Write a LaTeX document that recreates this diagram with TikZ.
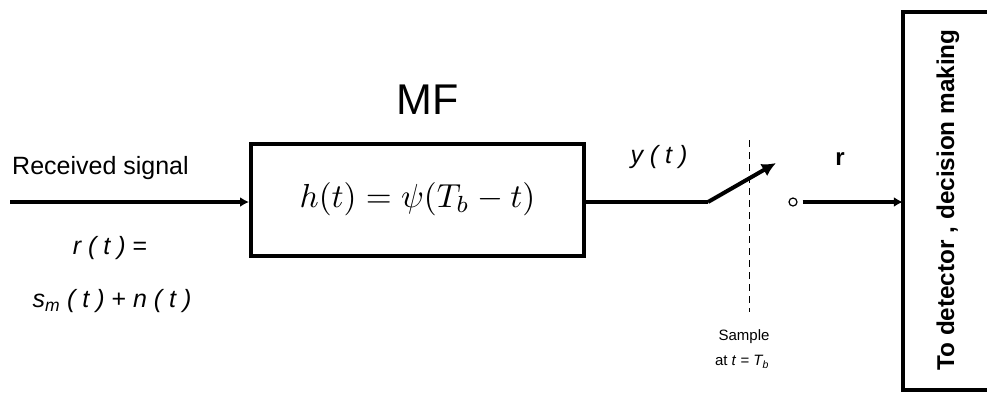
\documentclass[tikz,border=0pt]{standalone}
\usepackage{fontspec}
\setmainfont{Liberation Sans}
\usetikzlibrary{arrows.meta}
\begin{document}
\begin{tikzpicture}[x=1pt,y=-1pt,
  blk/.style={draw,line width=4pt,rectangle,inner sep=0pt},
  wire/.style={line width=4.5pt},
  tip/.style={-{Latex[length=9pt,width=10pt]}},
  lbl/.style={inner sep=0pt,font=\fontsize{25}{28}\selectfont},
  ilbl/.style={lbl,font=\fontsize{25}{28}\selectfont\itshape}]
\useasboundingbox (0,0) rectangle (987,392);
\fill[white] (0,0) rectangle (987,392);
% blocks
\node[blk,minimum width=333pt,minimum height=112pt] (mf) at (417.5,199.5) {\scalebox{3.33}{$h(t)=\psi(T_b-t)$}};
\node[font=\fontsize{43}{46}\selectfont,inner sep=0pt] (mft) at (428,100) {MF};
\node[minimum width=120pt,minimum height=378pt,inner sep=0pt] (det) at (963,201) {};
\draw[line width=4pt] ([xshift=-28pt]det.north east) -- (det.north west) -- (det.south west) -- ([xshift=-28pt]det.south east);
\node[rotate=90,font=\fontsize{24.3}{26}\selectfont\bfseries,inner sep=0pt] (dett) at (948,200) {To detector , decision making};
% coordinates
\coordinate (src) at (10,202);
\coordinate (sw0) at (708,202);
\coordinate (sw1) at (776,163);
\node[draw,circle,line width=1.2pt,minimum size=8pt,inner sep=0pt] (term) at (793,202) {};
% connectors
\draw[wire,tip] (src) -- (mf.west |- src);
\draw[wire] (mf.east |- sw0) -- (sw0);
\draw[line width=4pt,-{Latex[length=14pt,width=14pt]}] (sw0) -- (sw1);
\draw[wire,tip] (term.east) ++(5,0) coordinate (t2) (t2) -- (det.west |- t2);
% dashed sample line
\coordinate (d0) at (749,140);
\coordinate (d1) at (749,312);
\draw[line width=1pt,dash pattern=on 7pt off 5pt] (d0) -- (d1);
% labels
\node[lbl,anchor=west] (rs) at (12,168) {Received signal};
\node[ilbl] (rt) at (110,248) {r ( t ) {\upshape =}};
\node[ilbl] (sm) at (112,301) {s\textsubscript{m} ( t ) {\upshape +} n ( t )};
\node[ilbl] (yt) at (659,157) {y ( t )};
\node[lbl,font=\fontsize{24}{26}\selectfont\bfseries] (r) at (840,159) {r};
\node[inner sep=0pt,font=\fontsize{15}{16}\selectfont] (smp) at (744,337) {Sample};
\node[inner sep=0pt,font=\fontsize{15}{16}\selectfont] (att) at (742,362) {at \textit{t} = \textit{T\textsubscript{b}}};
\end{tikzpicture}
\end{document}
